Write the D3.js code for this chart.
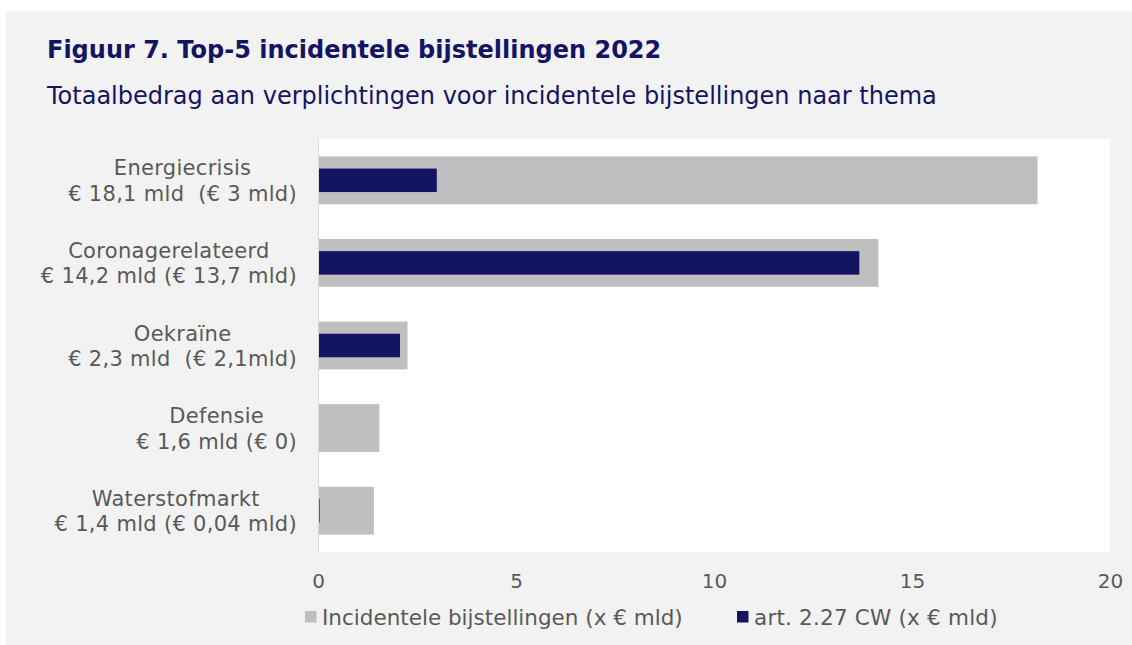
<!DOCTYPE html>
<html>
<head>
<meta charset="utf-8">
<script src="https://cdn.jsdelivr.net/npm/d3@7"></script>
<style>
  body { margin: 0; background: #ffffff; }
  svg { display: block; font-family: "DejaVu Sans", Verdana, sans-serif; }
</style>
</head>
<body>
<div id="the_chart"></div>
<script>
// waarden
var themas = ["Energiecrisis", "Coronagerelateerd", "Oekraïne", "Defensie", "Waterstofmarkt"];
var bedragLabels = ["€ 18,1 mld  (€ 3 mld)", "€ 14,2 mld (€ 13,7 mld)", "€ 2,3 mld  (€ 2,1mld)",
                    "€ 1,6 mld (€ 0)", "€ 1,4 mld (€ 0,04 mld)"];
var incidenteel = [18.17, 14.15, 2.26, 1.55, 1.41];
var art227 = [3.0, 13.67, 2.07, 0, 0.04];
var xTicks = [0, 5, 10, 15, 20];
var legendaNamen = ["Incidentele bijstellingen (x € mld)", "art. 2.27 CW (x € mld)"];

var w = 1132, h = 645;
var navy = "#141464", grijs = "#bfbfbf", tekst = "#595959";

var svg = d3.select("#the_chart")
    .append("svg")
    .attr("width", w)
    .attr("height", h);

// achtergrond
svg.append("rect")
    .attr("x", 6).attr("y", 11)
    .attr("width", w - 6).attr("height", h - 11)
    .attr("fill", "#f2f2f2");

var plot = {left: 318, right: 1110, top: 139, bottom: 552};

svg.append("rect")
    .attr("x", plot.left).attr("y", plot.top)
    .attr("width", plot.right - plot.left)
    .attr("height", plot.bottom - plot.top)
    .attr("fill", "#ffffff");

var xscale = d3.scaleLinear()
    .domain([0, 20])
    .range([plot.left, plot.right]);

var yscale = d3.scaleBand()
    .domain(themas)
    .range([plot.top, plot.bottom])
    .paddingInner(0.42)
    .paddingOuter(0.21);

// titel
svg.append("text")
    .attr("x", 47).attr("y", 58)
    .attr("fill", navy)
    .attr("font-size", 24)
    .attr("font-weight", "bold")
    .text("Figuur 7. Top-5 incidentele bijstellingen 2022");

svg.append("text")
    .attr("x", 47).attr("y", 104)
    .attr("fill", navy)
    .attr("font-size", 24)
    .text("Totaalbedrag aan verplichtingen voor incidentele bijstellingen naar thema");

// balken
var data = themas.map(function(t, i) {
    return {thema: t, label: bedragLabels[i], totaal: incidenteel[i], art: art227[i]};
});

svg.selectAll("rect.totaal")
    .data(data)
  .enter().append("rect")
    .attr("class", "totaal")
    .attr("x", xscale(0))
    .attr("y", function(d) { return yscale(d.thema); })
    .attr("width", function(d) { return xscale(d.totaal) - xscale(0); })
    .attr("height", yscale.bandwidth())
    .attr("fill", grijs);

var artH = yscale.bandwidth() * 0.49;
svg.selectAll("rect.art")
    .data(data)
  .enter().append("rect")
    .attr("class", "art")
    .attr("x", xscale(0))
    .attr("y", function(d) { return yscale(d.thema) + (yscale.bandwidth() - artH) / 2; })
    .attr("width", function(d) { return Math.max(0, xscale(d.art) - xscale(0)); })
    .attr("height", artH)
    .attr("fill", navy);

// y-as lijn
svg.append("line")
    .attr("x1", plot.left + 0.5).attr("x2", plot.left + 0.5)
    .attr("y1", plot.top).attr("y2", plot.bottom)
    .attr("stroke", "#d9d9d9");

// categorie labels: rechts uitgelijnd blok, regels onderling gecentreerd
var labelRechts = 297;
data.forEach(function(d) {
    var c = yscale(d.thema) + yscale.bandwidth() / 2;
    var g = svg.append("g")
        .attr("font-size", 21)
        .attr("letter-spacing", 0.3)
        .attr("fill", tekst)
        .attr("text-anchor", "middle");
    var t1 = g.append("text")
        .attr("y", c - 5)
        .style("white-space", "pre")
        .text(d.thema);
    var t2 = g.append("text")
        .attr("y", c + 20.5)
        .style("white-space", "pre")
        .text(d.label);
    var bw = Math.max(t1.node().getComputedTextLength(), t2.node().getComputedTextLength());
    t1.attr("x", labelRechts - bw / 2);
    t2.attr("x", labelRechts - bw / 2);
});

// x-as
var xaxis = d3.axisBottom(xscale)
    .tickValues(xTicks)
    .tickSize(0)
    .tickPadding(0);

var gX = svg.append("g")
    .attr("transform", "translate(0,573)")
    .call(xaxis);
gX.select(".domain").remove();
gX.selectAll("text")
    .attr("dy", null)
    .attr("y", 15)
    .attr("font-size", 20)
    .attr("font-family", "DejaVu Sans, sans-serif")
    .attr("fill", tekst);

// legenda
var legX = [305, 737];
var legKleur = [grijs, navy];
var legSpatie = [0, 0.2];
legendaNamen.forEach(function(n, i) {
    svg.append("rect")
        .attr("x", legX[i]).attr("y", 611)
        .attr("width", 11.5).attr("height", 11.5)
        .attr("fill", legKleur[i]);
    svg.append("text")
        .attr("x", legX[i] + 17).attr("y", 625)
        .attr("font-size", 21.5)
        .attr("letter-spacing", legSpatie[i])
        .attr("fill", tekst)
        .text(n);
});
</script>
</body>
</html>
